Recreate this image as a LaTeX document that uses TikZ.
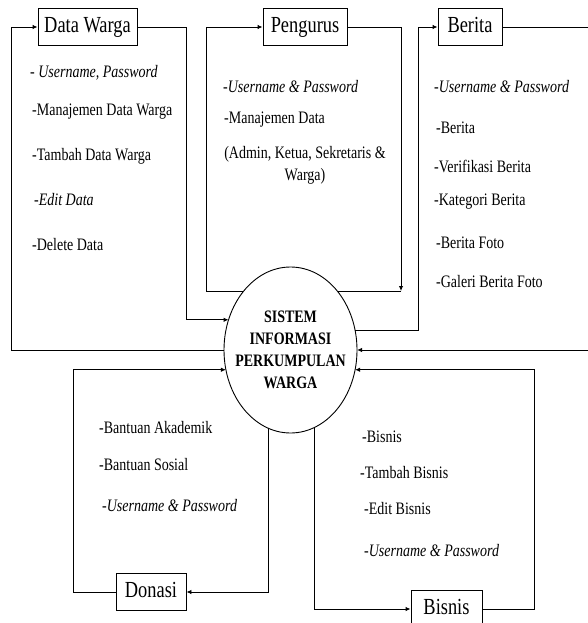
\documentclass[tikz,border=0pt]{standalone}
\usepackage{fontspec}
\setmainfont{Liberation Serif}[FakeStretch=0.8]
\usepackage{tikz}
\usetikzlibrary{shapes, arrows.meta, positioning, calc}

\begin{document}
\begin{tikzpicture}[x=1pt, y=-1pt,
  box/.style={draw, line width=0.9pt, minimum height=37pt, inner sep=0pt,
    text height=15.5pt, text depth=4pt, font=\fontsize{23}{25}\selectfont},
  item/.style={anchor=base west, inner sep=0pt, font=\fontsize{17.5}{20}\selectfont},
  arr/.style={-{Latex[length=5pt, width=4.5pt]}, line width=0.9pt}]
  \useasboundingbox (0,0) rectangle (587,623);

  % Boxes
  \node[box, minimum width=99pt] (dw) at (87.5,27) {Data Warga};
  \node[box, minimum width=84pt] (pg) at (305,27) {Pengurus};
  \node[box, minimum width=64pt] (br) at (470,27) {Berita};
  \node[box, minimum width=70pt] (dn) at (151,592) {Donasi};
  \node[box, minimum width=71pt] (bs) at (446.5,609) {Bisnis};

  % Corners of the loops
  \coordinate (dwL) at (11,27);
  \coordinate (dwR) at (186,27);
  \coordinate (pgL) at (206,291);
  \coordinate (pgR) at (401,291);
  \coordinate (brL) at (418,27);
  \coordinate (brR) at (592,27);
  \coordinate (dnL) at (73,592);
  \coordinate (bsR) at (534,609);

  % Pengurus loop (behind the ellipse)
  \draw[arr] (pg.east) -| (pgR);
  \draw[arr] (pgR) -- (pgL) |- (pg.west);

  % System
  \node[draw, ellipse, line width=0.9pt, fill=white, minimum width=133pt,
    minimum height=166pt, inner sep=0pt, outer sep=0pt] (el) at (290.5,350) {};
  \node[font=\bfseries\fontsize{17.5}{22.2}\selectfont, align=center] (eltxt)
    at (el.center) {SISTEM\\INFORMASI\\PERKUMPULAN\\WARGA};

  % Data Warga loop
  \draw[arr] (el.180) -| (dwL) -- (dw.west);
  \draw[arr] (dw.east) -- (dwR) |- (el.154.18);

  % Berita loop
  \draw[arr] (el.17.22) -| (brL) -- (br.west);
  \draw[arr] (br.east) -- (brR) |- (el.0);

  % Donasi loop
  \draw[arr] (dn.west) -- (dnL) |- (el.197.22);
  \draw[arr] (el.-106.07) |- (dn.east);

  % Bisnis loop
  \draw[arr] (el.-73.16) |- (bs.west);
  \draw[arr] (bs.east) -- (bsR) |- (el.-17.22);

  % Data Warga items
  \node[item] (dw1) at (30,78) {- \textit{Username, Password}};
  \node[item] (dw2) at (32,115.5) {-Manajemen Data Warga};
  \node[item] (dw3) at (32,160.5) {-Tambah Data Warga};
  \node[item] (dw4) at (34,205.5) {-\textit{Edit Data}};
  \node[item] (dw5) at (32,250.5) {-Delete Data};

  % Pengurus items
  \node[item] (pg1) at (223,92.5) {-\textit{Username \& Password}};
  \node[item] (pg2) at (224,123.5) {-Manajemen Data};
  \node[item, anchor=center, align=center, font=\fontsize{17.5}{22}\selectfont]
    (pg3) at (305,165) {(Admin, Ketua, Sekretaris \&\\Warga)};

  % Berita items
  \node[item] (br1) at (434,92.5) {-\textit{Username \& Password}};
  \node[item] (br2) at (436,133.5) {-Berita};
  \node[item] (br3) at (434,172.5) {-Verifikasi Berita};
  \node[item] (br4) at (434,205.5) {-Kategori Berita};
  \node[item] (br5) at (436,248.5) {-Berita Foto};
  \node[item] (br6) at (436,287.5) {-Galeri Berita Foto};

  % Donasi items
  \node[item] (dn1) at (99,433.5) {-Bantuan Akademik};
  \node[item] (dn2) at (99,470.5) {-Bantuan Sosial};
  \node[item] (dn3) at (102,511.5) {-\textit{Username \& Password}};

  % Bisnis items
  \node[item] (bs1) at (362,442.5) {-Bisnis};
  \node[item] (bs2) at (360,478.5) {-Tambah Bisnis};
  \node[item] (bs3) at (364,514.5) {-Edit Bisnis};
  \node[item] (bs4) at (364,556.5) {-\textit{Username \& Password}};
\end{tikzpicture}
\end{document}
